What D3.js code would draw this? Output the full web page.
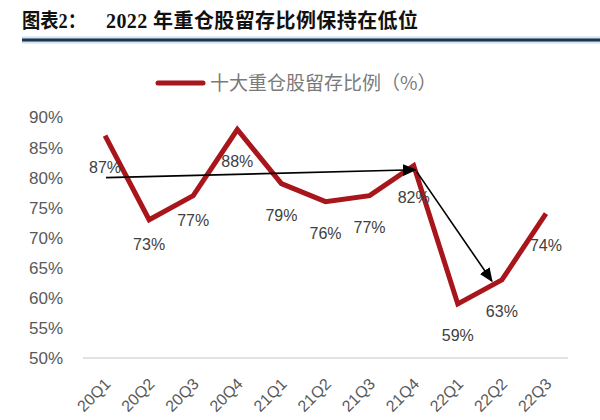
<!DOCTYPE html>
<html><head><meta charset="utf-8">
<script src="https://cdn.jsdelivr.net/npm/d3@7"></script>
<style>
html,body{margin:0;padding:0;background:#fff;}
svg{display:block;}
</style></head>
<body>
<script>
const categories = ["20Q1","20Q2","20Q3","20Q4","21Q1","21Q2","21Q3","21Q4","22Q1","22Q2","22Q3"];
const retention = [0.87,0.73,0.77,0.88,0.79,0.76,0.77,0.82,0.59,0.63,0.74];
const yTicks = [0.50,0.55,0.60,0.65,0.70,0.75,0.80,0.85,0.90];
const seriesName = "十大重仓股留存比例（%）";
const titleText = ["图表2：", "2022 年重仓股留存比例保持在低位"];
const arrowFrom = [["20Q1",0.800],["21Q4",0.810]];
const arrowTo   = [["21Q4",0.813],["22Q2",0.628]];

const W=600,H=420;
const svg=d3.select("body").append("svg").attr("width",W).attr("height",H);

// title
const titleFont="'Liberation Serif','Noto Sans CJK SC',serif";
svg.append("text").attr("x",22).attr("y",28).text(titleText[0])
  .attr("textLength",64).attr("lengthAdjust","spacingAndGlyphs")
  .style("font-family",titleFont).style("font-weight","bold").style("font-size","20px").attr("fill","#111");
svg.append("text").attr("x",106).attr("y",28).text(titleText[1])
  .attr("textLength",312).attr("lengthAdjust","spacing")
  .style("font-family",titleFont).style("font-weight","bold").style("font-size","20px").attr("fill","#111");
svg.append("line").attr("x1",22).attr("x2",600).attr("y1",40).attr("y2",40)
  .attr("stroke","#cfe2f0").attr("stroke-width",7);
svg.append("line").attr("x1",22).attr("x2",600).attr("y1",40).attr("y2",40)
  .attr("stroke","#1e3550").attr("stroke-width",3.2);

const x=d3.scalePoint().domain(categories).range([83,568]).padding(0.5);
const y=d3.scaleLinear().domain([0.5,0.9]).range([358,117.5]);
const fmt=d3.format(".0%");
const red="#a8151b";
const gray="#595959";
const sans="'Liberation Sans','Noto Sans',sans-serif";

// legend
svg.append("line").attr("x1",158).attr("x2",203).attr("y1",83).attr("y2",83)
  .attr("stroke",red).attr("stroke-width",5).attr("stroke-linecap","round");
svg.append("text").attr("x",210).attr("y",90).text(seriesName)
  .style("font-family","'Noto Sans CJK SC',sans-serif").style("font-size","19px").attr("fill","#7a7a7a");

// y axis
const yAxis=svg.append("g").attr("transform","translate(83,0)")
  .call(d3.axisLeft(y).tickValues(yTicks).tickFormat(fmt).tickSize(0).tickPadding(20));
yAxis.select(".domain").remove();
yAxis.selectAll("text").style("font-family",sans).style("font-size","17px").attr("fill",gray);

// x axis
const xAxis=svg.append("g").attr("transform","translate(0,358)")
  .call(d3.axisBottom(x).tickSize(0).tickSizeOuter(0));
xAxis.select(".domain").attr("stroke","#d9d9d9").attr("stroke-width",1.5)
  .attr("d","M83,0H568");
xAxis.selectAll("text").style("font-family",sans).style("font-size","16px").attr("fill",gray)
  .attr("text-anchor","end").attr("dy",0).attr("y",0)
  .attr("transform","translate(6,27) rotate(-45)");

// line
const line=d3.line().x((d,i)=>x(categories[i])).y(d=>y(d));
svg.append("path").datum(retention).attr("d",line).attr("fill","none")
  .attr("stroke",red).attr("stroke-width",5).attr("stroke-linejoin","miter");

// data labels
svg.append("g").selectAll("text").data(retention).join("text")
  .attr("x",(d,i)=>x(categories[i]))
  .attr("y",(d,i)=>y(d)+((i===1||i===2)?30:37))
  .attr("text-anchor","middle").text(d=>fmt(d))
  .style("font-family",sans).style("font-size","16px").attr("fill","#404040");

// arrows
const defs=svg.append("defs");
defs.append("marker").attr("id","ah").attr("viewBox","0 0 10 10").attr("refX",9).attr("refY",5)
  .attr("markerWidth",14).attr("markerHeight",14).attr("markerUnits","userSpaceOnUse").attr("orient","auto")
  .append("path").attr("d","M0,0.8L10,5L0,9.2z").attr("fill","#000");
arrowFrom.forEach((f,i)=>{
  const to=arrowTo[i];
  const dx2 = i===1 ? -10 : 2;
  svg.append("line")
    .attr("x1",x(f[0])+ (i===1?3:1)).attr("y1",y(f[1]))
    .attr("x2",x(to[0])+dx2).attr("y2",y(to[1]))
    .attr("stroke","#000").attr("stroke-width",1.6).attr("marker-end","url(#ah)");
});
</script>
</body></html>
